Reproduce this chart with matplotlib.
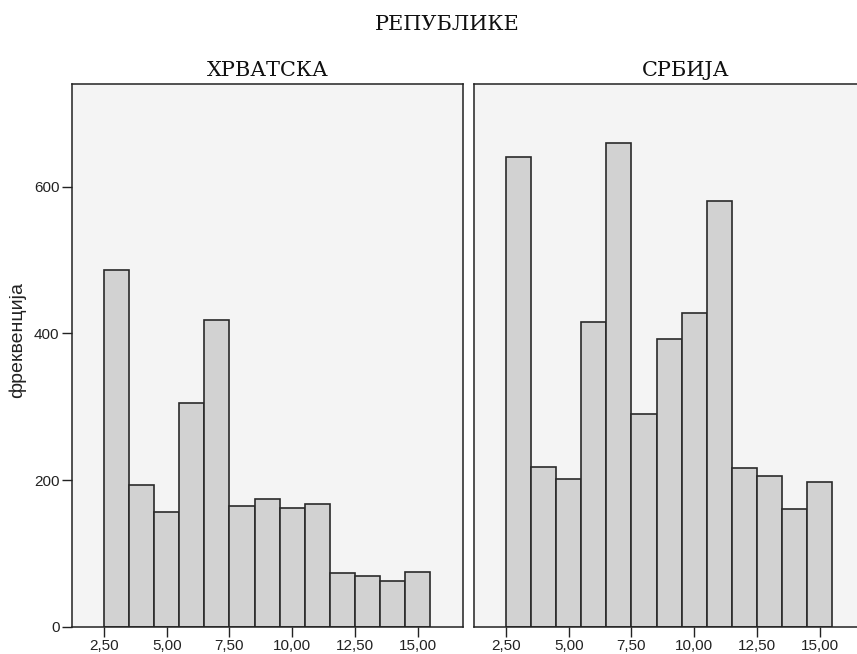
import matplotlib.pyplot as plt
import numpy as np

# bins of width 1 centred on 3 .. 15
bin_centers = [3, 4, 5, 6, 7, 8, 9, 10, 11, 12, 13, 14, 15]
hrvatska = [486, 194, 157, 305, 418, 165, 174, 162, 167, 73, 69, 63, 75]
srbija = [640, 218, 202, 416, 659, 290, 392, 428, 580, 217, 206, 161, 198]
panel_titles = ["ХРВАТСКА", "СРБИЈА"]
xticks = [2.5, 5.0, 7.5, 10.0, 12.5, 15.0]
xtick_labels = ["2,50", "5,00", "7,50", "10,00", "12,50", "15,00"]
yticks = [0, 200, 400, 600]

W, H = 857, 654
fig = plt.figure(figsize=(W / 100, H / 100), dpi=100)
fig.patch.set_facecolor("white")

serif = ["DejaVu Serif"]
sans = ["Liberation Sans", "DejaVu Sans"]

ax1 = fig.add_axes([72 / W, 1 - 627 / H, 391 / W, 543 / H])
ax2 = fig.add_axes([474 / W, 1 - 627 / H, 391 / W, 543 / H])

title_x = [0.5, (686 - 474) / 391]

for i, (ax, counts) in enumerate([(ax1, hrvatska), (ax2, srbija)]):
    ax.set_facecolor("#f4f4f4")
    ax.bar(np.array(bin_centers) - 0.5, counts, width=1.0, align="edge",
           color="#d2d2d2", edgecolor="#2a2a2a", linewidth=1.2, zorder=2)
    ax.set_xlim(1.23, 16.8)
    ax.set_ylim(0, 740)
    ax.set_xticks(xticks)
    ax.set_xticklabels(xtick_labels, family=sans, fontsize=11, color="#222222")
    ax.tick_params(axis="x", direction="out", length=7, width=1, color="#222222", pad=2)
    for s in ax.spines.values():
        s.set_color("#222222")
        s.set_linewidth(1.1)
    ax.text(title_x[i], 1 + 13 / 543, panel_titles[i], transform=ax.transAxes,
            family=serif, fontsize=15, ha="center", va="center", color="#111111")

ax1.set_yticks(yticks)
ax1.set_yticklabels([str(v) for v in yticks], family=sans, fontsize=11, color="#222222")
ax1.tick_params(axis="y", direction="out", length=7, width=1, color="#222222", pad=2)
ax1.set_ylabel("фреквенција", family=sans, fontsize=14, color="#222222")
ax1.yaxis.set_label_coords(-0.118, (627 - 340) / 543)
ax2.set_yticks([])

fig.text(447 / W, 1 - 25 / H, "РЕПУБЛИКЕ", family=serif, fontsize=15,
         ha="center", va="center", color="#111111")

fig.savefig("out.png", dpi=100)
